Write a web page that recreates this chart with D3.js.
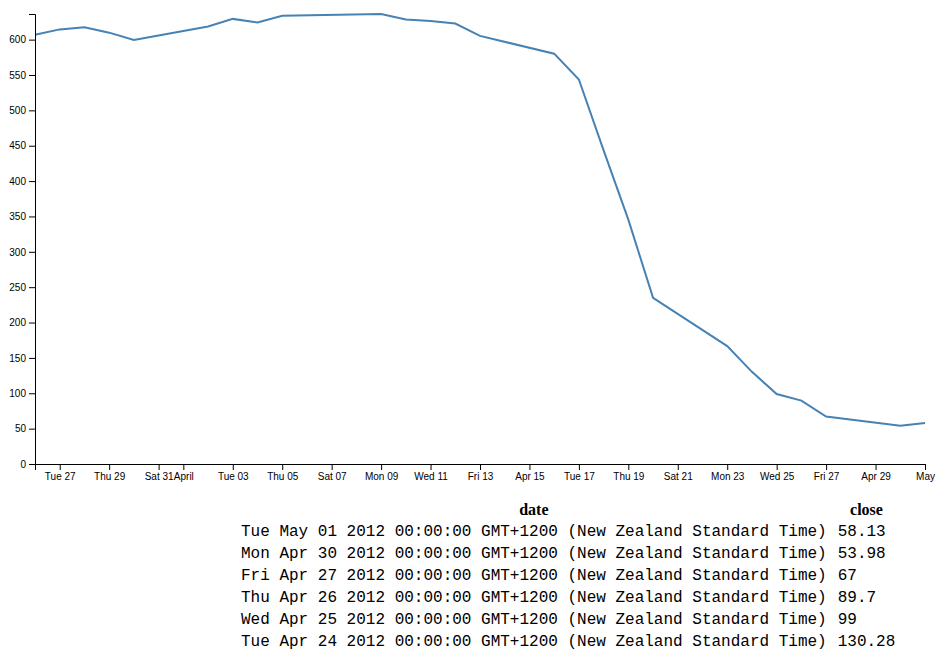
<!DOCTYPE html>
<html>
<head>
<meta charset="utf-8">
<script src="https://cdnjs.cloudflare.com/ajax/libs/d3/7.8.5/d3.min.js"></script>
<style>
  html, body { margin: 0; padding: 0; background: #fff; }
  #chart { position: absolute; left: 0; top: 0; }
  .line { fill: none; stroke: steelblue; stroke-width: 2px; }
  .axis text { font-family: Arial, "Liberation Sans", sans-serif; font-size: 10px; }
  table { position: absolute; left: 241px; top: 498.6px; border-collapse: separate; border-spacing: 0; }
  th { font-family: "Times New Roman", "Liberation Serif", serif; font-weight: bold; font-size: 16px; line-height: 20px; padding: 1px 0; text-align: center; }
  td { font-family: "Courier New", "Liberation Mono", monospace; font-size: 16px; line-height: 20px; padding: 1px 0; white-space: pre; }
  td.c0, th.c0 { padding-right: 11px; }
</style>
</head>
<body>
<svg id="chart" width="946" height="490"></svg>
<script>
// ---- data ----
const dates = ["1-May-12","30-Apr-12","27-Apr-12","26-Apr-12","25-Apr-12","24-Apr-12","23-Apr-12","20-Apr-12",
  "19-Apr-12","18-Apr-12","17-Apr-12","16-Apr-12","13-Apr-12","12-Apr-12","11-Apr-12","10-Apr-12","9-Apr-12",
  "5-Apr-12","4-Apr-12","3-Apr-12","2-Apr-12","30-Mar-12","29-Mar-12","28-Mar-12","27-Mar-12","26-Mar-12"];
const closes = [58.13,53.98,67.00,89.70,99.00,130.28,166.70,234.98,345.44,443.34,543.70,580.13,605.23,622.77,
  626.20,628.44,636.23,633.68,624.31,629.32,618.63,599.55,609.86,617.62,614.48,606.98];
const columns = ["date", "close"];
const tableRows = 6;
const tzSuffix = " GMT+1200 (New Zealand Standard Time)";

const parse = d3.timeParse("%d-%b-%y");
const data = dates.map((d, i) => ({ date: parse(d), close: closes[i] }));

// ---- chart ----
const margin = { top: 14, left: 35 };
const width = 890, height = 450;
const svg = d3.select("#chart");
const g = svg.append("g").attr("transform", `translate(${margin.left},${margin.top})`);

const x = d3.scaleTime().domain(d3.extent(data, d => d.date)).range([0, width]);
const y = d3.scaleLinear().domain([0, d3.max(data, d => d.close)]).range([height, 0]);

const line = d3.line().x(d => x(d.date)).y(d => y(d.close));

g.append("path").datum(data).attr("class", "line").attr("d", line);

g.append("g").attr("class", "axis").attr("transform", `translate(0,${height})`)
  .call(d3.axisBottom(x)).attr("font-family", null).attr("font-size", null);
g.append("g").attr("class", "axis")
  .call(d3.axisLeft(y)).attr("font-family", null).attr("font-size", null);

// ---- table ----
const fmt = d3.timeFormat("%a %b %d %Y %H:%M:%S");
const table = d3.select("body").append("table");
table.append("thead").append("tr").selectAll("th").data(columns).join("th")
  .attr("class", (d, i) => "c" + i).text(d => d);
const rows = table.append("tbody").selectAll("tr").data(data.slice(0, tableRows)).join("tr");
rows.selectAll("td").data(d => [fmt(d.date) + tzSuffix, String(d.close)]).join("td")
  .attr("class", (d, i) => "c" + i).text(d => d);
</script>
</body>
</html>
